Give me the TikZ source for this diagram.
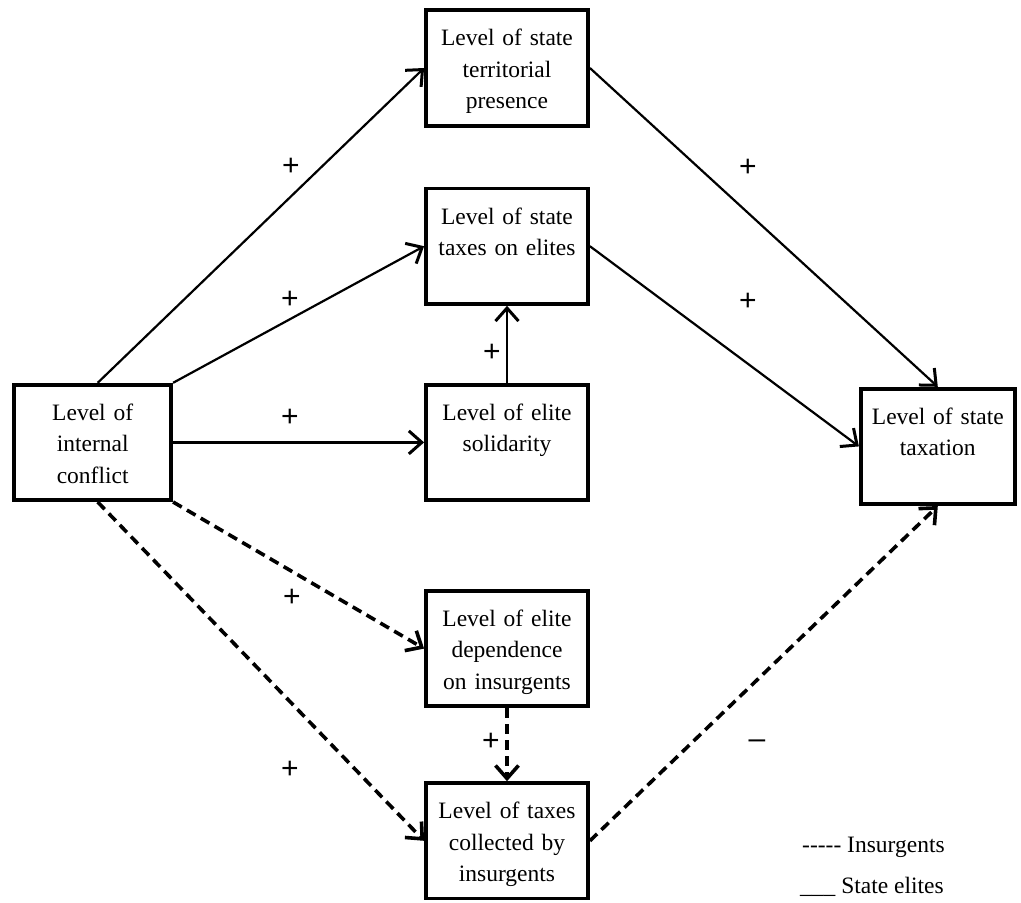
\documentclass[tikz,border=0pt]{standalone}
\usepackage{fontspec}
\setmainfont{Liberation Serif}
\newfontfamily\signfont{Liberation Sans}
\usepackage{tikz}
\usetikzlibrary{arrows.meta,positioning,calc}

\begin{document}
\begin{tikzpicture}[
    x=1pt, y=-1pt,
    varbox/.style={
        rectangle,
        draw,
        line width=3.8pt,
        align=center,
        text width=152pt,
        inner sep=5pt,
        text height=30.5pt,
        text depth=74.9pt,
        font=\fontsize{23.5pt}{31.5pt}\selectfont
    },
    sign/.style={
        inner sep=0pt,
        font=\signfont\fontsize{30pt}{30pt}\selectfont
    },
    arrow/.style={
        -{Straight Barb[length=13pt,width=23pt,line width'=3pt]},
        line width=2.2pt
    },
    insarrow/.style={
        -{Straight Barb[length=13pt,width=23pt,line width'=3.6pt]},
        line width=3.6pt,
        dash pattern=on 10pt off 6pt
    },
    legend/.style={
        anchor=base west,
        inner sep=0pt,
        font=\fontsize{23.5pt}{28pt}\selectfont
    }
]

\useasboundingbox (0,0) rectangle (1021,903);

% =========================
% Middle column
% =========================

\node[varbox] (presence) at (507,68)
{Level of state\\territorial\\presence};

\node[varbox, below=59pt of presence] (elites)
{Level of state\\taxes on elites};

\node[varbox, below=77pt of elites] (solidarity)
{Level of elite\\solidarity};

\node[varbox, below=87pt of solidarity] (dependence)
{Level of elite\\dependence\\on insurgents};

\node[varbox, below=73pt of dependence] (collected)
{Level of taxes\\collected by\\insurgents};

% =========================
% Cause and outcome
% =========================

\node[varbox, text width=147pt, left=251pt of solidarity] (conflict)
{Level of\\internal\\conflict};

\node[varbox, text width=144pt, right=269pt of solidarity, yshift=-4pt] (taxation)
{Level of state\\taxation};

% =========================
% State elites (solid)
% =========================

\draw[arrow] ([xshift=5pt]conflict.north) -- (presence.west);
\draw[arrow] (conflict.north east) -- (elites.west);
\draw[arrow] (conflict.east) -- (solidarity.west);
\draw[arrow] (solidarity.north) -- (elites.south);
\draw[arrow] (presence.east) -- (taxation.north);
\draw[arrow] (elites.east) -- (taxation.west);

% =========================
% Insurgents (dashed)
% =========================

\draw[insarrow] (conflict.south east) -- (dependence.west);
\draw[insarrow] ([xshift=5pt]conflict.south) -- (collected.west);
\draw[insarrow] (dependence.south) -- (collected.north);
\draw[insarrow] (collected.east) -- (taxation.south);

% =========================
% Signs
% =========================

\node[sign] (signPresence) at (291,167) {+};
\node[sign] (signElites) at (290,300) {+};
\node[sign] (signSolidarity) at (290,418) {+};
\node[sign] (signUp) at (492,353) {+};
\node[sign] (signPresenceTax) at (748,168) {+};
\node[sign] (signElitesTax) at (748,302) {+};
\node[sign] (signDependence) at (292,598) {+};
\node[sign] (signCollected) at (290,770) {+};
\node[sign] (signDown) at (491,742) {+};
\node[sign] (signInsTax) at (757,744) {\textendash};

% =========================
% Legend
% =========================

\node[legend] (legendIns) at (802,852)
{\hbox{-}\hbox{-}\hbox{-}\hbox{-}\hbox{-} Insurgents};

\node[legend] (legendState) at (800,893)
{\_\_\_ State elites};

\end{tikzpicture}
\end{document}
